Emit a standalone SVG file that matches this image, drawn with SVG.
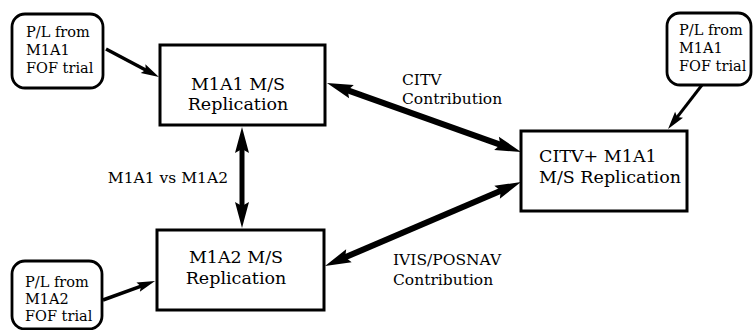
<svg xmlns="http://www.w3.org/2000/svg" width="755" height="330" viewBox="0 0 755 330">
<style>
.box{fill:#fff;stroke:#000;stroke-width:3}
.src{fill:#fff;stroke:#000;stroke-width:2.8}
.t{font-family:"DejaVu Serif","Liberation Serif",serif;fill:#000}
.bt{font-size:17.5px}
.st{font-size:14.5px}
.lb{font-size:15.5px}
.thick{stroke:#000;stroke-width:6;fill:none}
.mid{stroke:#000;stroke-width:5;fill:none}
.thin{stroke:#000;stroke-width:3.5;fill:none}
</style>
<defs>
<marker id="big" viewBox="-8 -10 30 20" refX="0" refY="0" markerWidth="30" markerHeight="20" markerUnits="userSpaceOnUse" orient="auto-start-reverse">
<path d="M20,0 L-6,-7 L-2,0 L-6,7 Z" fill="#000"/>
</marker>
<marker id="small" viewBox="-6 -7 22 14" refX="0" refY="0" markerWidth="22" markerHeight="14" markerUnits="userSpaceOnUse" orient="auto">
<path d="M14,0 L-4,-5 L-1,0 L-4,5 Z" fill="#000"/>
</marker>
</defs>
<rect width="755" height="330" fill="#fff"/>
<g id="connectors">
<line class="thin" x1="106" y1="49" x2="146.6" y2="70.5" marker-end="url(#small)"/>
<line class="thin" x1="702" y1="85" x2="676.6" y2="117.9" marker-end="url(#small)" style="stroke-width:3"/>
<line class="thin" x1="103" y1="300" x2="141.9" y2="285.8" marker-end="url(#small)"/>
<line class="thick" x1="345.8" y1="89.7" x2="502.2" y2="145.3" marker-start="url(#big)" marker-end="url(#big)"/>
<line class="thick" x1="343.4" y1="258.1" x2="502.6" y2="189.9" marker-start="url(#big)" marker-end="url(#big)"/>
<line class="mid" x1="242" y1="147" x2="242" y2="208" marker-start="url(#big)" marker-end="url(#big)"/>
<text class="t lb" x="402" y="85">CITV</text>
<text class="t lb" x="402" y="104">Contribution</text>
<text class="t lb" x="228" y="183" text-anchor="end">M1A1 vs M1A2</text>
<text class="t lb" x="393" y="265">IVIS/POSNAV</text>
<text class="t lb" x="393" y="285">Contribution</text>
</g>
<g id="src-m1a1-left">
<rect class="src" x="12" y="14" width="91" height="74" rx="13"/>
<text class="t st" x="26" y="37">P/L from</text>
<text class="t st" x="26" y="55">M1A1</text>
<text class="t st" x="26" y="73">FOF trial</text>
</g>
<g id="src-m1a1-right">
<rect class="src" x="667" y="13" width="84" height="72" rx="13"/>
<text class="t st" x="679" y="35">P/L from</text>
<text class="t st" x="679" y="53">M1A1</text>
<text class="t st" x="679" y="71">FOF trial</text>
</g>
<g id="src-m1a2">
<rect class="src" x="12" y="261" width="90" height="68" rx="13"/>
<text class="t st" x="25" y="287">P/L from</text>
<text class="t st" x="25" y="304">M1A2</text>
<text class="t st" x="25" y="321">FOF trial</text>
</g>
<g id="m1a1">
<rect class="box" x="160" y="45" width="165" height="80"/>
<text class="t bt" x="238" y="90" text-anchor="middle">M1A1 M/S</text>
<text class="t bt" x="238" y="110" text-anchor="middle">Replication</text>
</g>
<g id="m1a2">
<rect class="box" x="157" y="230" width="167" height="80"/>
<text class="t bt" x="236" y="263" text-anchor="middle">M1A2 M/S</text>
<text class="t bt" x="236" y="284" text-anchor="middle">Replication</text>
</g>
<g id="citv">
<rect class="box" x="521" y="131" width="166" height="80"/>
<text class="t bt" x="539" y="162">CITV+ M1A1</text>
<text class="t bt" x="539" y="183">M/S Replication</text>
</g>
</svg>
